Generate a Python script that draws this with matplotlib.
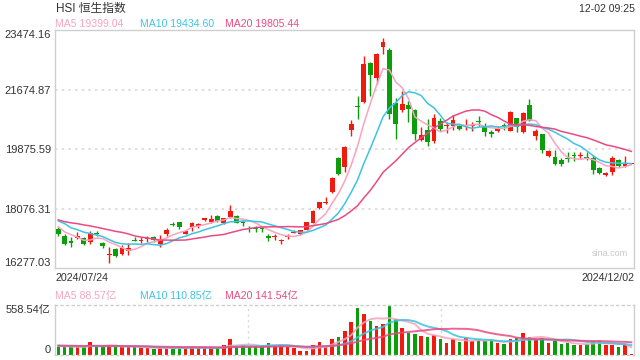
import matplotlib
matplotlib.use("Agg")
import matplotlib.pyplot as plt
import numpy as np

# ---------------- data ----------------
title = "HSI 恒生指数"
timestamp = "12-02 09:25"
first_date = "2024/07/24"
last_date = "2024/12/02"

opens = [17446, 17256, 17096, 17176, 17196, 17056, 17316, 17026, 16676, 16846,
         16696, 16806, 17100, 17100, 17160, 17226, 16990, 17296, 17580, 17656,
         17316, 17526, 17560, 17714, 17680, 17846, 17646, 17826, 17856, 17680,
         17490, 17470, 17460, 17250, 17200, 17090, 17220, 17340, 17300, 17430,
         17650, 18080, 18230, 18580, 19600, 19330, 20443, 21160, 21290, 22480,
         22030, 22950, 22860, 21270, 21040, 21220, 21050, 20140, 20463, 20110,
         20725, 20560, 20564, 20564, 20560, 20570, 20715, 20564, 20402, 20430,
         20600, 20425, 20805, 20395, 21195, 20275, 20325, 19675, 19635, 19535,
         19610, 19700, 19655, 19630, 19615, 19315, 19080, 19195, 19545, 19355,
         19424]
highs = [17526, 17296, 17226, 17356, 17226, 17396, 17406, 17076, 16926, 16896,
         16976, 17026, 17226, 17226, 17256, 17256, 17276, 17476, 17676, 17676,
         17416, 17656, 17650, 17804, 17874, 17870, 17800, 18196, 17890, 17720,
         17560, 17540, 17520, 17300, 17300, 17160, 17300, 17420, 17440, 17680,
         18030, 18280, 18420, 19040, 19620, 19980, 20746, 21493, 22685, 22500,
         22770, 23241, 22920, 21420, 21624, 21320, 21100, 20544, 20786, 20938,
         20816, 20680, 20917, 20600, 20786, 20685, 20887, 20665, 20450, 20560,
         20655, 21025, 20810, 20995, 21375, 20495, 20335, 19845, 19855, 19595,
         19795, 19775, 19775, 19775, 19695, 19335, 19170, 19675, 19575, 19675,
         19445]
lows = [17256, 16966, 16916, 17156, 16976, 17006, 17256, 16876, 16441, 16616,
        16676, 16676, 17086, 17026, 17076, 17076, 16926, 17256, 17560, 17456,
        17296, 17396, 17476, 17694, 17624, 17660, 17600, 17780, 17630, 17560,
        17380, 17380, 17360, 17080, 17130, 16990, 17150, 17330, 17280, 17420,
        17630, 18060, 18200, 18550, 19080, 19180, 20261, 20786, 21270, 21470,
        21830, 22740, 20770, 20180, 20988, 20685, 20160, 20110, 19958, 20059,
        20412, 20362, 20463, 20440, 20463, 20412, 20564, 20261, 20250, 20375,
        20455, 20405, 20375, 20355, 20720, 20155, 19755, 19625, 19395, 19355,
        19475, 19525, 19605, 19555, 19125, 19105, 19050, 19075, 19325, 19325,
        19420]
closes = [17311, 17005, 17021, 17238, 17002, 17344, 17304, 16945, 16698, 16647,
          16877, 16891, 17090, 17112, 17174, 17113, 17110, 17430, 17569, 17511,
          17391, 17641, 17612, 17798, 17754, 17692, 17786, 17989, 17651, 17652,
          17457, 17444, 17444, 17196, 17234, 17108, 17240, 17369, 17422, 17660,
          18013, 18258, 18247, 19000, 19129, 19924, 20632, 21133, 22443, 22114,
          22737, 23100, 20926, 20637, 21251, 21092, 20318, 20286, 20079, 20804,
          20478, 20599, 20760, 20489, 20590, 20599, 20701, 20380, 20317, 20506,
          20567, 21006, 20538, 20953, 20728, 20426, 19846, 19823, 19435, 19426,
          19576, 19663, 19705, 19601, 19230, 19151, 19159, 19603, 19366, 19424,
          19443]
# closes of the 19 sessions before the first one shown (for the moving averages)
prev_closes = [18089, 17716, 17719, 17769, 17979, 18028, 17799, 17524, 17523, 17471,
               17832, 18293, 17812, 17727, 17739, 17778, 17417, 17635, 17469]

volumes = [90, 90, 88, 85, 92, 142, 92, 90, 116, 92,
           88, 90, 90, 79, 79, 67, 79, 80, 80, 79,
           78, 94, 79, 80, 79, 78, 108, 176, 90, 116,
           92, 90, 95, 131, 109, 109, 90, 79, 41, 41,
           116, 146, 98, 176, 199, 266, 368, 525, 458, 379,
           323, 345, 558.54, 398, 300, 244, 233, 210, 199, 221,
           176, 131, 176, 143, 188, 154, 165, 154, 165, 131,
           120, 176, 190, 248, 202, 178, 190, 133, 156, 120,
           131, 112, 112, 124, 158, 160, 110, 112, 90, 124,
           7]
prev_volumes = [105, 98, 112, 120, 95, 100, 108, 115, 102, 96,
                110, 118, 104, 99, 107, 113, 101, 97, 105]

price_ticks = [16277.03, 18076.31, 19875.59, 21674.87, 23474.16]
price_tick_labels = ["16277.03", "18076.31", "19875.59", "21674.87", "23474.16"]
vol_max = 558.54
vol_tick_labels = ["0", "558.54亿"]

ma_periods = [5, 10, 20]
ma_price_labels = ["MA5 19399.04", "MA10 19434.60", "MA20 19805.44"]
ma_vol_labels = ["MA5 88.57亿", "MA10 110.85亿", "MA20 141.54亿"]

# ---------------- style ----------------
RED = "#F01A0E"
GREEN = "#0A9E0A"
MA_COLORS = ["#F8A3C0", "#3CC4E2", "#EA4A82"]
TXT = "#333333"
GRID = "#d9d9d9"
SPINE = "#cfcfcf"
FONT = ["Liberation Sans", "Noto Sans CJK SC", "DejaVu Sans"]
plt.rcParams["font.family"] = FONT

W, H = 640, 360
fig = plt.figure(figsize=(W / 100, H / 100), dpi=100)


def rect(l, t, r, b):
    return [l / W, 1 - b / H, (r - l) / W, (b - t) / H]


def ptxt(x, y, s, **kw):
    fig.text(x / W, 1 - y / H, s, **kw)


O = np.array(opens, float)
Hh = np.array(highs, float)
L = np.array(lows, float)
C = np.array(closes, float)
V = np.array(volumes, float)
n = len(C)
x = np.arange(n)
up = C > O
cols = np.where(up, RED, GREEN)

all_c = np.concatenate([prev_closes, C])
all_v = np.concatenate([prev_volumes, V])
off = len(prev_closes)


def ma(arr, p):
    return np.array([arr[off + i - p + 1: off + i + 1].mean() for i in range(n)])


xlim = (-0.52, 90.42)

# ---------------- price panel ----------------
ax = fig.add_axes(rect(55, 30, 634, 268))
ax.set_xlim(*xlim)
ax.set_ylim(price_ticks[0], price_ticks[-1])
for yv in price_ticks[1:-1]:
    ax.axhline(yv, color=GRID, lw=1.2, ls=(0, (1.5, 2.5)), zorder=0)

ax.vlines(x, L, Hh, colors=cols, lw=1, zorder=2)
body_h = np.maximum(np.abs(C - O), 28)
ax.bar(x, body_h, bottom=np.minimum(O, C), width=0.76, color=cols, lw=0, zorder=3)

for p, c in zip(ma_periods, MA_COLORS):
    ax.plot(x, ma(all_c, p), color=c, lw=1.1, zorder=4)

ax.set_xticks([])
ax.set_yticks(price_ticks)
ax.set_yticklabels(price_tick_labels)
ax.tick_params(axis="y", length=0, pad=3, labelsize=8, labelcolor=TXT)
labs = ax.get_yticklabels()
labs[0].set_va("bottom")
labs[-1].set_va("top")
for s in ax.spines.values():
    s.set_color(SPINE)
    s.set_linewidth(1)

ptxt(628, 254, "sina.com", ha="right", va="center", fontsize=6.5, color="#c8c8c8")

# ---------------- volume panel ----------------
axv = fig.add_axes(rect(55, 305, 634, 355))
axv.set_xlim(*xlim)
axv.set_ylim(0, vol_max)
for fx in (1 / 3, 2 / 3):
    axv.plot([fx, fx], [0, 1], transform=axv.transAxes, color=GRID, lw=1,
             ls=(0, (1.5, 2.5)), zorder=0)
axv.bar(x, V, width=0.55, color=cols, lw=0, zorder=2)
for p, c in zip(ma_periods, MA_COLORS):
    axv.plot(x, ma(all_v, p), color=c, lw=1.4, alpha=0.85, zorder=3)
axv.set_xticks([])
axv.set_yticks([0, vol_max])
axv.set_yticklabels(vol_tick_labels)
axv.tick_params(axis="y", length=0, pad=3, labelsize=8, labelcolor=TXT)
vl = axv.get_yticklabels()
vl[0].set_va("bottom")
vl[1].set_va("top")
for k, s in axv.spines.items():
    s.set_color(SPINE)
    s.set_linewidth(1)
axv.spines["top"].set_linestyle((0, (1.5, 2.5)))
axv.spines["bottom"].set_linestyle((0, (1.5, 2.5)))

# ---------------- texts ----------------
ptxt(56, 9, title, ha="left", va="center", fontsize=8.5, color=TXT)
ptxt(635, 8.5, timestamp, ha="right", va="center", fontsize=7.6, color=TXT)
for xp, s, c in zip([55, 140, 225], ma_price_labels, MA_COLORS):
    ptxt(xp, 24, s, ha="left", va="center", fontsize=7.6, color=c)
for xp, s, c in zip([55, 140, 225], ma_vol_labels, MA_COLORS):
    ptxt(xp, 296.5, s, ha="left", va="center", fontsize=7.6, color=c)
ptxt(55, 278, first_date, ha="left", va="center", fontsize=7.7, color=TXT)
ptxt(634, 278, last_date, ha="right", va="center", fontsize=7.7, color=TXT)

fig.savefig("out.png", dpi=100)
